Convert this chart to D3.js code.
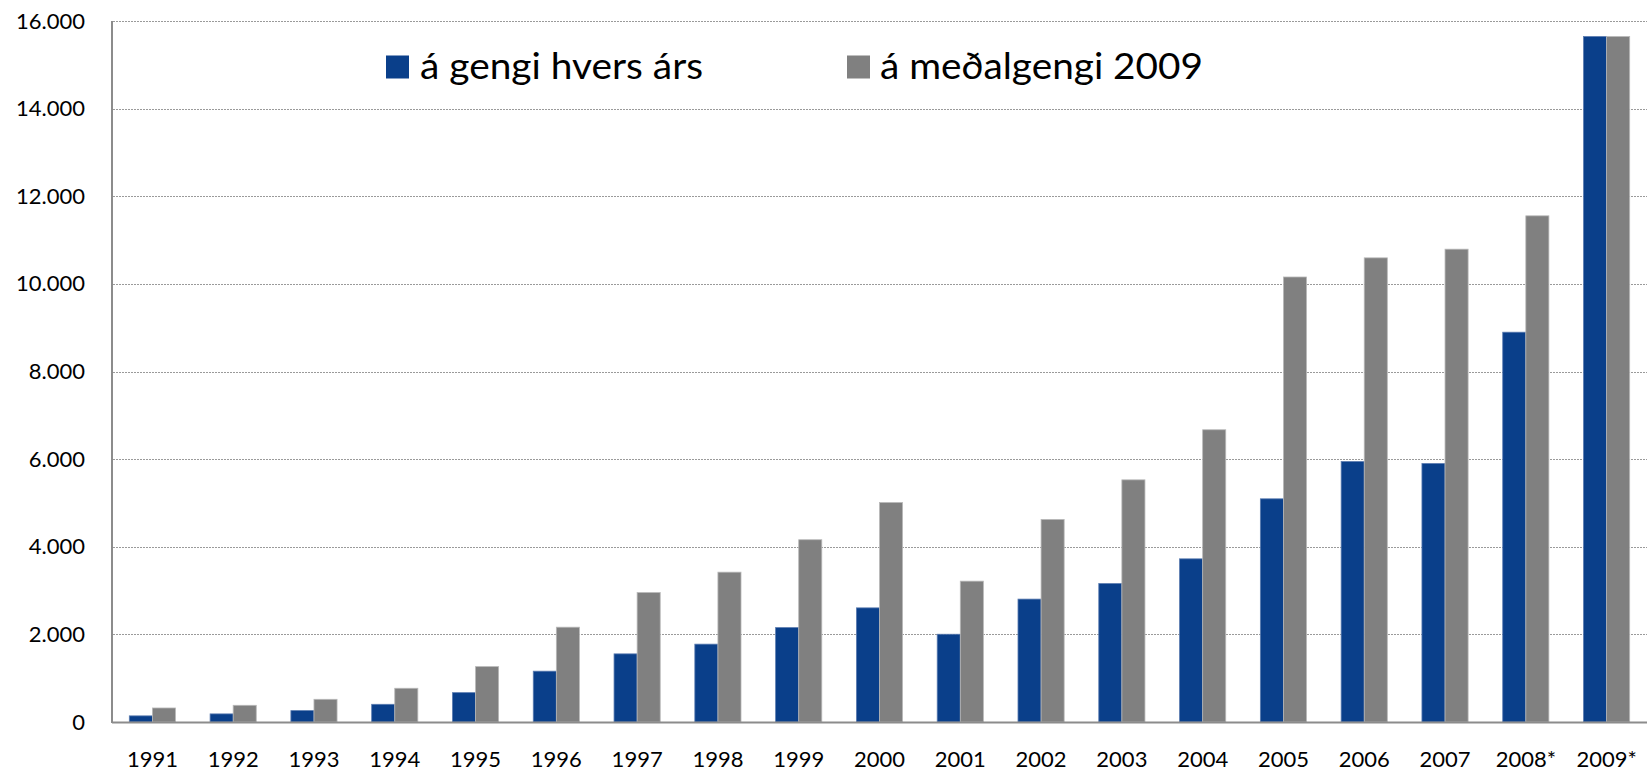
<!DOCTYPE html>
<html>
<head>
<meta charset="utf-8">
<script src="https://cdn.jsdelivr.net/npm/d3@7"></script>
<style>
  html, body { margin: 0; padding: 0; background: #fff; }
  svg { display: block; }
  text { font-family: Lato, "Open Sans", sans-serif; fill: #000; }
</style>
</head>
<body>
<svg id="chart" width="1651" height="779"></svg>
<script>
const categories = ["1991","1992","1993","1994","1995","1996","1997","1998","1999","2000","2001","2002","2003","2004","2005","2006","2007","2008*","2009*"];
const seriesNames = ["á gengi hvers árs", "á meðalgengi 2009"];
const valuesCurrent = [140, 185, 260, 404, 670, 1160, 1555, 1777, 2155, 2605, 2003, 2805, 3160, 3724, 5094, 5945, 5900, 8897, 15646];
const valuesConst2009 = [320, 381, 518, 770, 1264, 2164, 2955, 3420, 4160, 5010, 3215, 4623, 5527, 6670, 10157, 10594, 10792, 11553, 15646];
const yTicks = [0, 2000, 4000, 6000, 8000, 10000, 12000, 14000, 16000];
const colors = ["#0A3F8A", "#808080"];

const W = 1651, H = 779;
const margin = { left: 112, right: 4, top: 21, bottom: 57 };
const svg = d3.select("#chart");

const x0 = d3.scaleBand().domain(categories).range([margin.left, W - margin.right]).padding(0);
const x1 = d3.scaleBand().domain(seriesNames).range([0, x0.bandwidth()]).paddingInner(0).paddingOuter(0.75);
const y = d3.scaleLinear().domain([0, 16000]).range([H - margin.bottom, margin.top]);

const fmt = v => d3.format(",")(v).replace(/,/g, ".");

// gridlines
svg.append("g")
  .selectAll("line")
  .data(yTicks.filter(t => t > 0))
  .join("line")
  .attr("x1", margin.left + 1)
  .attr("x2", W - margin.right)
  .attr("y1", d => Math.round(y(d)) + 0.5)
  .attr("y2", d => Math.round(y(d)) + 0.5)
  .attr("stroke", "#9a9a9a")
  .attr("stroke-width", 1)
  .attr("stroke-dasharray", "2,1");

// y axis
const yAxis = d3.axisLeft(y).tickValues(yTicks).tickFormat(fmt).tickSize(0).tickPadding(27);
const gy = svg.append("g").attr("transform", `translate(${margin.left},0)`).call(yAxis);
gy.select(".domain").remove();
gy.selectAll("text").style("font-size", "22px").style("font-family", "Lato, sans-serif").attr("fill", "#000");

// bars
const data = categories.map((c, i) => ({ cat: c, vals: [valuesCurrent[i], valuesConst2009[i]] }));
const groups = svg.append("g").selectAll("g")
  .data(data)
  .join("g")
  .attr("transform", d => `translate(${x0(d.cat)},0)`);

groups.selectAll("rect")
  .data(d => d.vals.map((v, j) => ({ key: seriesNames[j], v, j })))
  .join("rect")
  .attr("x", d => x1(d.key))
  .attr("width", x1.bandwidth())
  .attr("y", d => y(d.v))
  .attr("height", d => y(0) - y(d.v))
  .attr("fill", d => colors[d.j])
  .attr("stroke", d => d.j === 0 ? "#5a7bb0" : "#b8b8b8")
  .attr("stroke-width", 0.8);

// axis lines
svg.append("line")
  .attr("x1", margin.left).attr("x2", margin.left)
  .attr("y1", margin.top).attr("y2", y(0) + 1)
  .attr("stroke", "#8c8c8c").attr("stroke-width", 2);
svg.append("line")
  .attr("x1", margin.left).attr("x2", W - margin.right)
  .attr("y1", y(0) + 0.5).attr("y2", y(0) + 0.5)
  .attr("stroke", "#8c8c8c").attr("stroke-width", 2);

// x axis labels
const xAxis = d3.axisBottom(x0).tickSize(0).tickPadding(29);
const gx = svg.append("g").attr("transform", `translate(0,${y(0)})`).call(xAxis);
gx.select(".domain").remove();
gx.selectAll("text").style("font-size", "22px").style("font-family", "Lato, sans-serif").attr("fill", "#000");

// legend
const legendItems = [
  { name: seriesNames[0], color: colors[0], sx: 386, tx: 420, tw: 283 },
  { name: seriesNames[1], color: colors[1], sx: 847, tx: 880, tw: 323 }
];
const lg = svg.append("g");
legendItems.forEach(it => {
  lg.append("rect").attr("x", it.sx).attr("y", 55.5).attr("width", 23).attr("height", 23).attr("fill", it.color);
  lg.append("text")
    .attr("x", it.tx).attr("y", 79)
    .attr("textLength", it.tw).attr("lengthAdjust", "spacingAndGlyphs")
    .style("font-size", "37px")
    .style("font-family", "Lato, sans-serif")
    .text(it.name);
});
</script>
</body>
</html>
